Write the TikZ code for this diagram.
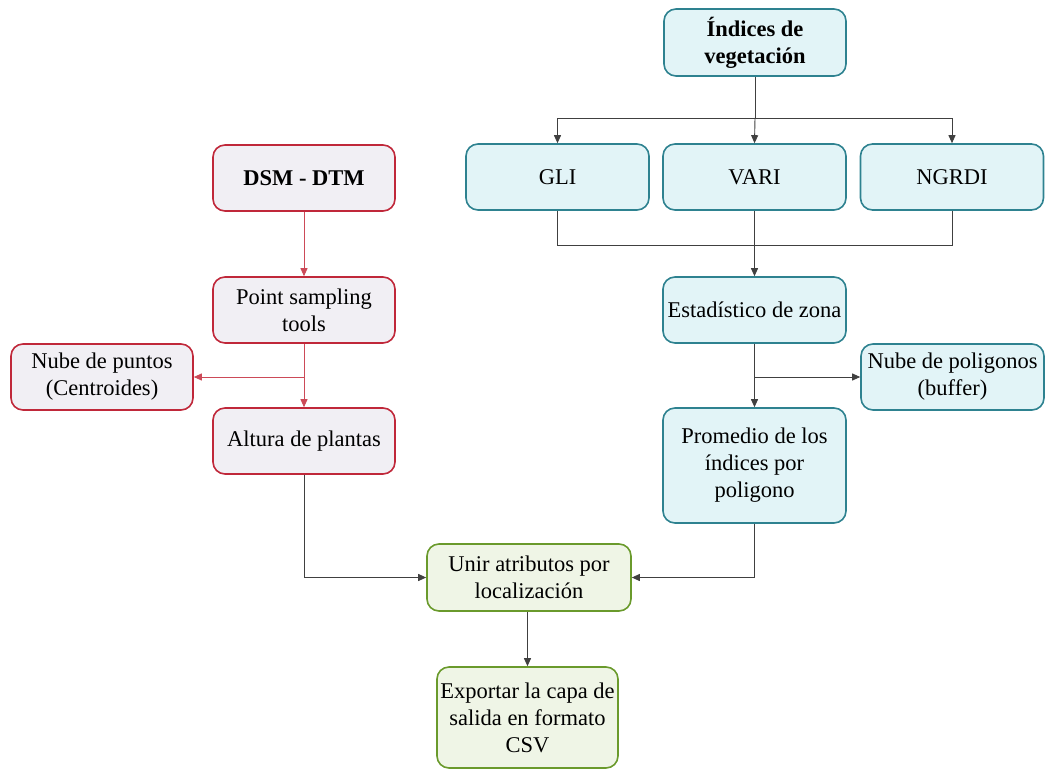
\documentclass[tikz,border=0pt]{standalone}
\usepackage{fontspec}
\setmainfont{Liberation Serif}
\usetikzlibrary{arrows.meta}
\definecolor{cyanfill}{HTML}{E2F4F7}
\definecolor{cyanline}{HTML}{2E8290}
\definecolor{redfill}{HTML}{F1EFF4}
\definecolor{redline}{HTML}{C0283A}
\definecolor{redarrow}{HTML}{CC4A58}
\definecolor{greenfill}{HTML}{EFF5E6}
\definecolor{greenline}{HTML}{6A9A2C}
\definecolor{linkgray}{HTML}{404040}
\tikzset{
  x=1pt, y=-1pt,
  box/.style={rounded corners=12pt, line width=1.6pt, align=center,
    font=\fontsize{22.5}{27}\selectfont, inner sep=0pt},
  cbox/.style={box, draw=cyanline, fill=cyanfill},
  rbox/.style={box, draw=redline, fill=redfill},
  gbox/.style={box, draw=greenline, fill=greenfill},
  boldtext/.style={font=\fontsize{22.5}{27}\selectfont\bfseries},
  link/.style={draw=linkgray, line width=0.9pt, -{Triangle[length=8pt,width=7pt]}},
  plain/.style={draw=linkgray, line width=0.9pt},
  rlink/.style={draw=redarrow, line width=0.9pt, -{Triangle[length=8pt,width=7pt]}},
}
\begin{document}
\begin{tikzpicture}
\useasboundingbox (0,0) rectangle (1047,769);
% vegetation index branch
\node[cbox, boldtext, minimum width=182pt, minimum height=67pt] (ind) at (755,42.5) {Índices de\\vegetación};
\node[cbox, minimum width=183pt, minimum height=66pt] (gli) at (557.5,177) {GLI};
\node[cbox, minimum width=183pt, minimum height=66pt] (vari) at (754.5,177) {VARI};
\node[cbox, minimum width=183pt, minimum height=66pt] (ngrdi) at (952,177) {NGRDI};
\node[cbox, minimum width=183pt, minimum height=66pt] (est) at (754.5,310) {Estadístico de zona};
\node[cbox, minimum width=183pt, minimum height=66pt] (poly) at (952.5,377) {Nube de poligonos\\(buffer)};
\node[cbox, minimum width=183pt, minimum height=115pt] (prom) at (754.5,465.5) {Promedio de los\\índices por\\poligono};
% elevation branch
\node[rbox, boldtext, minimum width=182pt, minimum height=66pt] (dsm) at (304,178) {DSM - DTM};
\node[rbox, minimum width=182pt, minimum height=66pt] (pst) at (304,310) {Point sampling\\tools};
\node[rbox, minimum width=182pt, minimum height=66pt] (cen) at (102,377) {Nube de puntos\\(Centroides)};
\node[rbox, minimum width=182pt, minimum height=66pt] (alt) at (304,441) {Altura de plantas};
% merge and export
\node[gbox, minimum width=204pt, minimum height=67pt] (unir) at (529,577.5) {Unir atributos por\\localización};
\node[gbox, minimum width=181pt, minimum height=101pt] (exp) at (527.5,717.5) {Exportar la capa de\\salida en formato\\CSV};
% connectors
\coordinate (split) at (755,118);
\draw[plain] (ind.south) -- (split);
\draw[link] (split) -| (gli.north);
\draw[link] (split) -- (vari.north);
\draw[link] (split) -| (ngrdi.north);
\coordinate (join) at (755,245);
\draw[plain] (gli.south) |- (join);
\draw[plain] (ngrdi.south) |- (join);
\draw[link] (vari.south) -- (est.north);
\coordinate (estsplit) at (755,377);
\draw[link] (est.south) -- (prom.north);
\draw[link] (estsplit) -- (poly.west);
\draw[rlink] (dsm.south) -- (pst.north);
\coordinate (ptsplit) at (304,377);
\draw[rlink] (pst.south) -- (alt.north);
\draw[rlink] (ptsplit) -- (cen.east);
\draw[link] (alt.south) |- (unir.west);
\draw[link] (prom.south) |- (unir.east);
\draw[link] (unir.south -| exp.north) -- (exp.north);
\end{tikzpicture}
\end{document}
